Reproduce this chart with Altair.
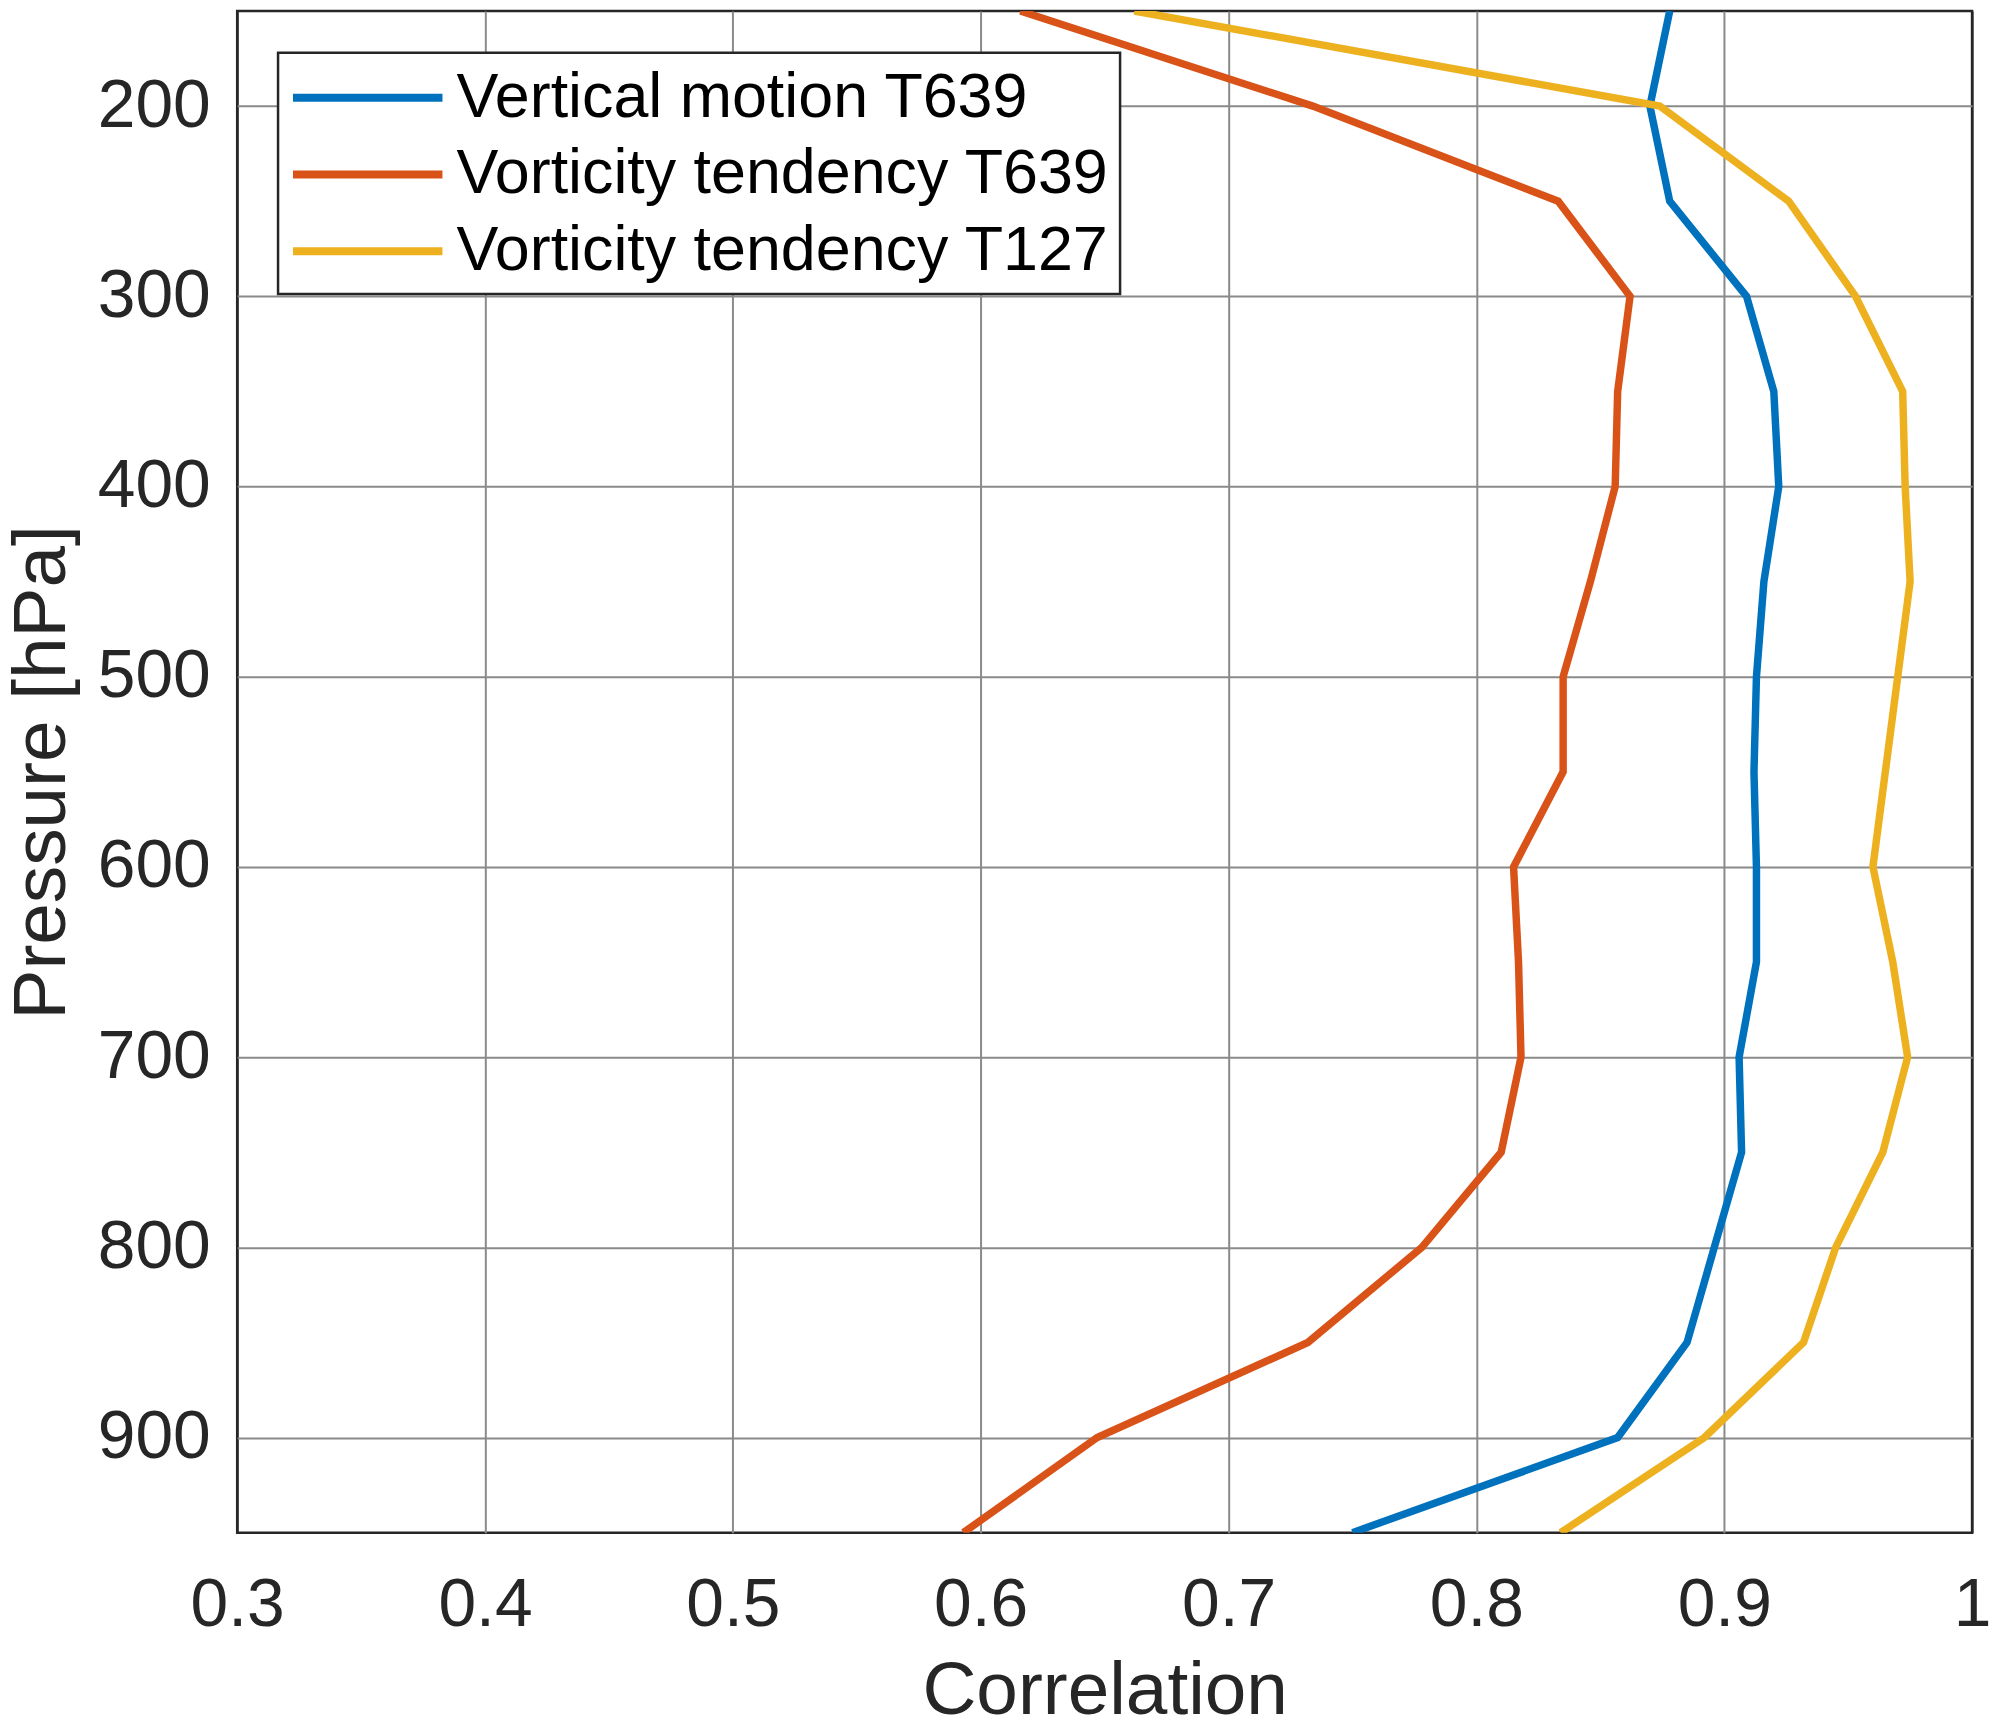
import altair as alt
import pandas as pd

pressure = [150, 200, 250, 300, 350, 400, 450, 500, 550, 600, 650, 700, 750, 800, 850, 900, 950]
vertical_motion_t639 = [0.878, 0.870, 0.878, 0.909, 0.920, 0.922, 0.916, 0.913, 0.912, 0.913,
                        0.913, 0.906, 0.907, 0.896, 0.885, 0.857, 0.750]
vorticity_tendency_t639 = [0.616, 0.734, 0.833, 0.862, 0.857, 0.856, 0.846, 0.835, 0.835, 0.815,
                           0.817, 0.818, 0.810, 0.778, 0.732, 0.647, 0.593]
vorticity_tendency_t127 = [0.662, 0.874, 0.926, 0.953, 0.972, 0.973, 0.975, 0.970, 0.965, 0.960,
                           0.968, 0.974, 0.964, 0.945, 0.932, 0.892, 0.834]

series_names = ["Vertical motion T639", "Vorticity tendency T639", "Vorticity tendency T127"]
series_colors = ["#0072BD", "#D95319", "#EDB120"]
x_ticks = [0.3, 0.4, 0.5, 0.6, 0.7, 0.8, 0.9, 1.0]
y_ticks = [200, 300, 400, 500, 600, 700, 800, 900]

rows = []
for name, vals in zip(series_names, [vertical_motion_t639, vorticity_tendency_t639, vorticity_tendency_t127]):
    for p, v in zip(pressure, vals):
        rows.append({"series": name, "pressure": p, "corr": v})
df = pd.DataFrame(rows)

FONT = "Liberation Sans"
TXT = "#262626"
GRID = "#8a8a8a"

PLOT_W = 1741
PLOT_H = 1527

x_axis = alt.Axis(
    values=x_ticks, format=".1~f", title="Correlation",
    grid=True,
    gridColor={"condition": {"test": "datum.value < 0.301 || datum.value > 0.999", "value": TXT}, "value": GRID},
    gridWidth=2, domain=False, ticks=False, tickSize=0,
    labelFont=FONT, labelFontSize=68, labelColor=TXT, labelPadding=93,
    labelBaseline="alphabetic", labelFlush=False, labelOverlap=False,
    titleFont=FONT, titleFontSize=75, titleFontWeight="normal", titleColor=TXT,
    titleX=PLOT_W / 2, titleY=181, titleBaseline="alphabetic", titleAlign="center",
)
y_axis = alt.Axis(
    values=y_ticks, format="d", title="Pressure [hPa]",
    grid=True, gridColor=GRID, gridWidth=2, domain=False, ticks=False, tickSize=0,
    labelFont=FONT, labelFontSize=68, labelColor=TXT, labelPadding=27,
    labelBaseline="middle", labelOverlap=False, labelFlush=False,
    titleFont=FONT, titleFontSize=75, titleFontWeight="normal", titleColor=TXT,
    titleAngle=270, titleX=-173, titleY=PLOT_H / 2, titleBaseline="alphabetic", titleAlign="center",
)

legend = alt.Legend(
    title=None, orient="none", legendX=41, legendY=42,
    symbolType="M-2.5,0H2.5", symbolSize=3600, symbolStrokeWidth=8,
    symbolOffset=45, labelOffset=55,
    labelFont=FONT, labelFontSize=63, labelColor="#000000", labelLimit=2000,
    padding=11, rowPadding=11, strokeColor=TXT, fillColor="white",
)

chart = alt.Chart(df).mark_line(strokeWidth=7.5, clip=True).encode(
    x=alt.X("corr:Q", scale=alt.Scale(domain=[0.3, 1.0], nice=False, zero=False), axis=x_axis),
    y=alt.Y("pressure:Q", scale=alt.Scale(domain=[150, 950], reverse=True, nice=False, zero=False), axis=y_axis),
    color=alt.Color("series:N", scale=alt.Scale(domain=series_names, range=series_colors), legend=legend),
    order=alt.Order("pressure:Q"),
).properties(
    width=PLOT_W, height=PLOT_H,
    autosize=alt.AutoSizeParams(type="none"),
    padding={"left": 230, "top": 0, "right": 20, "bottom": 188},
).configure(font=FONT).configure_view(
    stroke=TXT, strokeWidth=2.5, fill="white"
).configure_legend(strokeWidth=2.5)

chart.save("out.html", embed_options={"renderer": "svg", "actions": False})
